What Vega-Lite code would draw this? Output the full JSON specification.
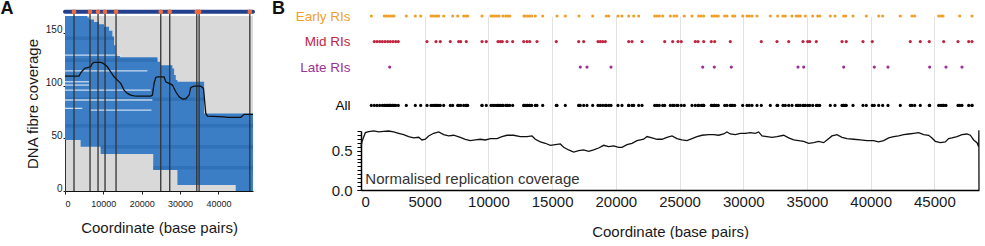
{
 "$schema": "https://vega.github.io/schema/vega-lite/v6.json",
 "padding": 0,
 "background": "white",
 "bounds": "flush",
 "spacing": 108,
 "config": {"font": "Liberation Sans", "view": {"stroke": null}, "axis": {"titleColor": "#1a1a1a", "titleFontWeight": "normal", "domainColor": "#222", "tickColor": "#222"}, "title": {"fontSize": 18, "fontWeight": "bold", "color": "#111"}},
 "resolve": {"scale": {"x": "independent", "y": "independent", "color": "independent"}},
 "datasets": {
  "cover": [
   {"x":0,"top":165.9,"bottom":48.3},{"x":4070,"top":165.9,"bottom":42},{"x":5826,"top":164.6,"bottom":42},{"x":6261,"top":162.7,"bottom":42},{"x":7565,"top":160.4,"bottom":42},{"x":8870,"top":158.2,"bottom":42},{"x":9288,"top":158.2,"bottom":35},{"x":10174,"top":155.7,"bottom":35},{"x":11478,"top":151.9,"bottom":35},{"x":12348,"top":146.2,"bottom":35},{"x":12783,"top":138.3,"bottom":35},{"x":13217,"top":129.9,"bottom":35},{"x":13652,"top":128,"bottom":35},{"x":14348,"top":126.8,"bottom":35},{"x":23000,"top":126.8,"bottom":19.9},{"x":24087,"top":122.5,"bottom":19.9},{"x":24957,"top":119.4,"bottom":19.9},{"x":28000,"top":116.3,"bottom":19.9},{"x":28435,"top":110,"bottom":19.9},{"x":28870,"top":105.2,"bottom":19.9},{"x":29304,"top":103.6,"bottom":5.7},{"x":36261,"top":73.6,"bottom":5.7},{"x":44500,"top":73.6,"bottom":0},{"x":49000,"top":73.6,"bottom":0}
  ],
  "bands": [
   {"start":0,"end":12783,"y":145},{"start":0,"end":24087,"y":124},{"start":0,"end":36261,"y":87},{"start":0,"end":49000,"y":62},{"start":9288,"end":49000,"y":42},{"start":23000,"end":49000,"y":22}
  ],
  "wlines": [
   {"start":0,"end":14610,"y":128.9},{"start":0,"end":21470,"y":114},{"start":0,"end":6260,"y":103.6},{"start":0,"end":6260,"y":100.5},{"start":0,"end":22330,"y":95.7},{"start":0,"end":22776,"y":86.3},{"start":0,"end":4510,"y":78.4},{"start":6600,"end":22515,"y":76.8}
  ],
  "meanA": [
   {"x":0,"v":109},{"x":3652,"v":109},{"x":4087,"v":112},{"x":5130,"v":116.3},{"x":6696,"v":117.8},{"x":7130,"v":121},{"x":7565,"v":122},{"x":9304,"v":122},{"x":10000,"v":121},{"x":11043,"v":117.8},{"x":11913,"v":113.1},{"x":12783,"v":108.3},{"x":13652,"v":105.2},{"x":14522,"v":102.1},{"x":15391,"v":95.7},{"x":16261,"v":92.6},{"x":17130,"v":91},{"x":18000,"v":90.3},{"x":18870,"v":90},{"x":22348,"v":90},{"x":22783,"v":91},{"x":23217,"v":102.1},{"x":23652,"v":107.7},{"x":24087,"v":108.3},{"x":25826,"v":108.3},{"x":26261,"v":103.6},{"x":27130,"v":102.1},{"x":28000,"v":100.5},{"x":28870,"v":94.1},{"x":29739,"v":89.4},{"x":30609,"v":87.2},{"x":31478,"v":87.5},{"x":32348,"v":91},{"x":32783,"v":98.3},{"x":33652,"v":99.5},{"x":35391,"v":99.5},{"x":36087,"v":97.3},{"x":36696,"v":73.6},{"x":37130,"v":71.1},{"x":41478,"v":70.4},{"x":42348,"v":69.9},{"x":45826,"v":69.9},{"x":46696,"v":72.7},{"x":49000,"v":72.7}
  ],
  "orig": [
   {"pos":2348},{"pos":6522},{"pos":8609},{"pos":10435},{"pos":13304},{"pos":24957},{"pos":27304},{"pos":34348},{"pos":34957},{"pos":48174}
  ],
  "genome": [{"start":0,"end":49000}],
  "note": [{"text":"Normalised replication coverage","pos":340,"v":0.076}],
  "ri": [
   {"pos":808,"type":"Early RIs"},{"pos":1829,"type":"Early RIs"},{"pos":1986,"type":"Early RIs"},{"pos":2142,"type":"Early RIs"},{"pos":2299,"type":"Early RIs"},{"pos":2456,"type":"Early RIs"},{"pos":2590,"type":"Early RIs"},{"pos":3555,"type":"Early RIs"},{"pos":4261,"type":"Early RIs"},{"pos":4685,"type":"Early RIs"},{"pos":5494,"type":"Early RIs"},{"pos":5651,"type":"Early RIs"},{"pos":5808,"type":"Early RIs"},{"pos":5965,"type":"Early RIs"},{"pos":6098,"type":"Early RIs"},{"pos":6490,"type":"Early RIs"},{"pos":7197,"type":"Early RIs"},{"pos":7589,"type":"Early RIs"},{"pos":8060,"type":"Early RIs"},{"pos":8240,"type":"Early RIs"},{"pos":8374,"type":"Early RIs"},{"pos":9495,"type":"Early RIs"},{"pos":10202,"type":"Early RIs"},{"pos":10359,"type":"Early RIs"},{"pos":10516,"type":"Early RIs"},{"pos":10673,"type":"Early RIs"},{"pos":10830,"type":"Early RIs"},{"pos":11144,"type":"Early RIs"},{"pos":11356,"type":"Early RIs"},{"pos":11513,"type":"Early RIs"},{"pos":11670,"type":"Early RIs"},{"pos":12793,"type":"Early RIs"},{"pos":12894,"type":"Early RIs"},{"pos":13082,"type":"Early RIs"},{"pos":13239,"type":"Early RIs"},{"pos":13396,"type":"Early RIs"},{"pos":13679,"type":"Early RIs"},{"pos":14260,"type":"Early RIs"},{"pos":15382,"type":"Early RIs"},{"pos":16034,"type":"Early RIs"},{"pos":17107,"type":"Early RIs"},{"pos":18184,"type":"Early RIs"},{"pos":19251,"type":"Early RIs"},{"pos":19440,"type":"Early RIs"},{"pos":20169,"type":"Early RIs"},{"pos":20483,"type":"Early RIs"},{"pos":21009,"type":"Early RIs"},{"pos":21401,"type":"Early RIs"},{"pos":21794,"type":"Early RIs"},{"pos":23050,"type":"Early RIs"},{"pos":23230,"type":"Early RIs"},{"pos":23411,"type":"Early RIs"},{"pos":23677,"type":"Early RIs"},{"pos":24274,"type":"Early RIs"},{"pos":24564,"type":"Early RIs"},{"pos":24776,"type":"Early RIs"},{"pos":25373,"type":"Early RIs"},{"pos":25977,"type":"Early RIs"},{"pos":26503,"type":"Early RIs"},{"pos":26707,"type":"Early RIs"},{"pos":26895,"type":"Early RIs"},{"pos":27547,"type":"Early RIs"},{"pos":27727,"type":"Early RIs"},{"pos":27884,"type":"Early RIs"},{"pos":28041,"type":"Early RIs"},{"pos":28543,"type":"Early RIs"},{"pos":28724,"type":"Early RIs"},{"pos":29171,"type":"Early RIs"},{"pos":29328,"type":"Early RIs"},{"pos":29956,"type":"Early RIs"},{"pos":30294,"type":"Early RIs"},{"pos":30474,"type":"Early RIs"},{"pos":30686,"type":"Early RIs"},{"pos":31078,"type":"Early RIs"},{"pos":32122,"type":"Early RIs"},{"pos":32703,"type":"Early RIs"},{"pos":33118,"type":"Early RIs"},{"pos":33299,"type":"Early RIs"},{"pos":33825,"type":"Early RIs"},{"pos":34162,"type":"Early RIs"},{"pos":34319,"type":"Early RIs"},{"pos":34476,"type":"Early RIs"},{"pos":34869,"type":"Early RIs"},{"pos":35449,"type":"Early RIs"},{"pos":35842,"type":"Early RIs"},{"pos":35999,"type":"Early RIs"},{"pos":36831,"type":"Early RIs"},{"pos":37200,"type":"Early RIs"},{"pos":37883,"type":"Early RIs"},{"pos":38040,"type":"Early RIs"},{"pos":38613,"type":"Early RIs"},{"pos":39657,"type":"Early RIs"},{"pos":40630,"type":"Early RIs"},{"pos":40944,"type":"Early RIs"},{"pos":42325,"type":"Early RIs"},{"pos":43243,"type":"Early RIs"},{"pos":43455,"type":"Early RIs"},{"pos":45338,"type":"Early RIs"},{"pos":45519,"type":"Early RIs"},{"pos":45676,"type":"Early RIs"},{"pos":46986,"type":"Early RIs"},{"pos":47952,"type":"Early RIs"},
   {"pos":1044,"type":"Mid RIs"},{"pos":1256,"type":"Mid RIs"},{"pos":1468,"type":"Mid RIs"},{"pos":1672,"type":"Mid RIs"},{"pos":1884,"type":"Mid RIs"},{"pos":2095,"type":"Mid RIs"},{"pos":2299,"type":"Mid RIs"},{"pos":2511,"type":"Mid RIs"},{"pos":2723,"type":"Mid RIs"},{"pos":2927,"type":"Mid RIs"},{"pos":5180,"type":"Mid RIs"},{"pos":5886,"type":"Mid RIs"},{"pos":6223,"type":"Mid RIs"},{"pos":7008,"type":"Mid RIs"},{"pos":7667,"type":"Mid RIs"},{"pos":7824,"type":"Mid RIs"},{"pos":8264,"type":"Mid RIs"},{"pos":9496,"type":"Mid RIs"},{"pos":9833,"type":"Mid RIs"},{"pos":10752,"type":"Mid RIs"},{"pos":10932,"type":"Mid RIs"},{"pos":11089,"type":"Mid RIs"},{"pos":11458,"type":"Mid RIs"},{"pos":11905,"type":"Mid RIs"},{"pos":12769,"type":"Mid RIs"},{"pos":13028,"type":"Mid RIs"},{"pos":13239,"type":"Mid RIs"},{"pos":13812,"type":"Mid RIs"},{"pos":15327,"type":"Mid RIs"},{"pos":17085,"type":"Mid RIs"},{"pos":17477,"type":"Mid RIs"},{"pos":18600,"type":"Mid RIs"},{"pos":18780,"type":"Mid RIs"},{"pos":18969,"type":"Mid RIs"},{"pos":19173,"type":"Mid RIs"},{"pos":21009,"type":"Mid RIs"},{"pos":21268,"type":"Mid RIs"},{"pos":22053,"type":"Mid RIs"},{"pos":23834,"type":"Mid RIs"},{"pos":24462,"type":"Mid RIs"},{"pos":24878,"type":"Mid RIs"},{"pos":25137,"type":"Mid RIs"},{"pos":26236,"type":"Mid RIs"},{"pos":26448,"type":"Mid RIs"},{"pos":26895,"type":"Mid RIs"},{"pos":27492,"type":"Mid RIs"},{"pos":27758,"type":"Mid RIs"},{"pos":28983,"type":"Mid RIs"},{"pos":31416,"type":"Mid RIs"},{"pos":32648,"type":"Mid RIs"},{"pos":33566,"type":"Mid RIs"},{"pos":34688,"type":"Mid RIs"},{"pos":35057,"type":"Mid RIs"},{"pos":35214,"type":"Mid RIs"},{"pos":35732,"type":"Mid RIs"},{"pos":37749,"type":"Mid RIs"},{"pos":38087,"type":"Mid RIs"},{"pos":39397,"type":"Mid RIs"},{"pos":40127,"type":"Mid RIs"},{"pos":43109,"type":"Mid RIs"},{"pos":43894,"type":"Mid RIs"},{"pos":44600,"type":"Mid RIs"},{"pos":45730,"type":"Mid RIs"},{"pos":46853,"type":"Mid RIs"},{"pos":47692,"type":"Mid RIs"},{"pos":47951,"type":"Mid RIs"},
   {"pos":2252,"type":"Late RIs"},{"pos":17211,"type":"Late RIs"},{"pos":17736,"type":"Late RIs"},{"pos":19620,"type":"Late RIs"},{"pos":26817,"type":"Late RIs"},{"pos":27727,"type":"Late RIs"},{"pos":29061,"type":"Late RIs"},{"pos":34296,"type":"Late RIs"},{"pos":34743,"type":"Late RIs"},{"pos":37882,"type":"Late RIs"},{"pos":40284,"type":"Late RIs"},{"pos":41359,"type":"Late RIs"},{"pos":44631,"type":"Late RIs"},{"pos":45911,"type":"Late RIs"},{"pos":47166,"type":"Late RIs"}
  ],
  "cov": [
   {"pos":0,"v":0.551},{"pos":78,"v":0.615},{"pos":340,"v":0.729},{"pos":602,"v":0.742},{"pos":994,"v":0.752},{"pos":1386,"v":0.738},{"pos":1779,"v":0.746},{"pos":2171,"v":0.75},{"pos":2564,"v":0.738},{"pos":2956,"v":0.721},{"pos":3348,"v":0.704},{"pos":3741,"v":0.679},{"pos":4133,"v":0.662},{"pos":4526,"v":0.67},{"pos":4787,"v":0.636},{"pos":5049,"v":0.645},{"pos":5310,"v":0.687},{"pos":5703,"v":0.721},{"pos":6095,"v":0.738},{"pos":6488,"v":0.704},{"pos":6880,"v":0.687},{"pos":7272,"v":0.696},{"pos":7796,"v":0.67},{"pos":8188,"v":0.645},{"pos":8580,"v":0.628},{"pos":8973,"v":0.636},{"pos":9365,"v":0.645},{"pos":9758,"v":0.636},{"pos":10150,"v":0.653},{"pos":10673,"v":0.653},{"pos":11066,"v":0.679},{"pos":11458,"v":0.696},{"pos":11981,"v":0.696},{"pos":12504,"v":0.679},{"pos":13028,"v":0.679},{"pos":13420,"v":0.687},{"pos":13682,"v":0.645},{"pos":14074,"v":0.611},{"pos":14466,"v":0.594},{"pos":14859,"v":0.568},{"pos":15251,"v":0.577},{"pos":15644,"v":0.585},{"pos":15905,"v":0.543},{"pos":16297,"v":0.509},{"pos":16690,"v":0.483},{"pos":17082,"v":0.5},{"pos":17475,"v":0.509},{"pos":17867,"v":0.492},{"pos":18259,"v":0.509},{"pos":18652,"v":0.534},{"pos":19044,"v":0.568},{"pos":19436,"v":0.551},{"pos":19829,"v":0.56},{"pos":20221,"v":0.543},{"pos":20483,"v":0.543},{"pos":20876,"v":0.577},{"pos":21268,"v":0.594},{"pos":21660,"v":0.628},{"pos":22183,"v":0.645},{"pos":22446,"v":0.679},{"pos":22838,"v":0.662},{"pos":23230,"v":0.645},{"pos":23623,"v":0.645},{"pos":24015,"v":0.67},{"pos":24408,"v":0.687},{"pos":24800,"v":0.653},{"pos":25192,"v":0.636},{"pos":25585,"v":0.628},{"pos":25977,"v":0.653},{"pos":26370,"v":0.679},{"pos":26762,"v":0.696},{"pos":27285,"v":0.704},{"pos":27678,"v":0.704},{"pos":28070,"v":0.696},{"pos":28462,"v":0.712},{"pos":28724,"v":0.738},{"pos":28986,"v":0.712},{"pos":29378,"v":0.704},{"pos":29770,"v":0.721},{"pos":30163,"v":0.721},{"pos":30555,"v":0.729},{"pos":30948,"v":0.721},{"pos":31209,"v":0.738},{"pos":31471,"v":0.687},{"pos":31863,"v":0.679},{"pos":32256,"v":0.67},{"pos":32648,"v":0.679},{"pos":33171,"v":0.696},{"pos":33564,"v":0.662},{"pos":33956,"v":0.636},{"pos":34348,"v":0.628},{"pos":34741,"v":0.619},{"pos":35133,"v":0.594},{"pos":35526,"v":0.602},{"pos":35918,"v":0.619},{"pos":36310,"v":0.602},{"pos":36572,"v":0.636},{"pos":36964,"v":0.687},{"pos":37357,"v":0.704},{"pos":37749,"v":0.67},{"pos":38142,"v":0.653},{"pos":38665,"v":0.645},{"pos":39188,"v":0.636},{"pos":39711,"v":0.628},{"pos":40234,"v":0.628},{"pos":40627,"v":0.611},{"pos":41019,"v":0.628},{"pos":41412,"v":0.662},{"pos":41804,"v":0.679},{"pos":42196,"v":0.687},{"pos":42589,"v":0.704},{"pos":42981,"v":0.712},{"pos":43374,"v":0.721},{"pos":43766,"v":0.729},{"pos":44158,"v":0.704},{"pos":44551,"v":0.696},{"pos":44812,"v":0.662},{"pos":45074,"v":0.619},{"pos":45466,"v":0.602},{"pos":45859,"v":0.611},{"pos":46120,"v":0.653},{"pos":46382,"v":0.662},{"pos":46774,"v":0.679},{"pos":47167,"v":0.704},{"pos":47559,"v":0.712},{"pos":47821,"v":0.696},{"pos":48082,"v":0.636},{"pos":48344,"v":0.602},{"pos":48477,"v":0.551},{"pos":48490,"v":0.76},{"pos":48502,"v":0}
  ]
 },
 "hconcat": [
  {
   "title": {"text": "A", "anchor": "start", "frame": "group", "dx": -64.5, "dy": 9, "offset": 0},
   "width": 188,
   "height": 175,
   "view": {"fill": "#d9d9d9", "stroke": null},
   "layer": [
    {
     "data": {"name": "cover"},
     "mark": {"type": "area", "interpolate": "step-after", "color": "#3b7ec5", "opacity": 1},
     "encoding": {
      "x": {"field": "x", "type": "quantitative", "title": "Coordinate (base pairs)", "scale": {"domain": [0, 49000], "nice": false, "zero": false},
            "axis": {"values": [0, 10000, 20000, 30000, 40000], "format": "d", "labelFontSize": 9, "labelColor": "#1a1a1a", "tickSize": 3, "labelPadding": 5, "titleFontSize": 15, "titlePadding": 12, "grid": false, "domainColor": "#111"}},
      "y": {"field": "top", "type": "quantitative", "title": "DNA fibre coverage", "scale": {"domain": [0, 166], "nice": false},
            "axis": {"values": [0, 50, 100, 150], "labelFontSize": 10, "labelColor": "#1a1a1a", "labelBaseline": "alphabetic", "tickSize": 2, "labelPadding": 1, "titleFontSize": 15, "titlePadding": 5, "grid": false, "domainColor": "#333"}},
      "y2": {"field": "bottom"}
     }
    },
    {
     "data": {"name": "bands"},
     "mark": {"type": "rule", "color": "#2a66ab", "strokeWidth": 3.5, "opacity": 0.55},
     "encoding": {
      "x": {"field": "start", "type": "quantitative", "title": "Coordinate (base pairs)"},
      "x2": {"field": "end"},
      "y": {"field": "y", "type": "quantitative", "title": "DNA fibre coverage"}
     }
    },
    {
     "data": {"name": "wlines"},
     "mark": {"type": "rule", "color": "#e2eaf5", "strokeWidth": 1.3, "opacity": 0.85},
     "encoding": {
      "x": {"field": "start", "type": "quantitative", "title": "Coordinate (base pairs)"},
      "x2": {"field": "end"},
      "y": {"field": "y", "type": "quantitative", "title": "DNA fibre coverage"}
     }
    },
    {
     "data": {"name": "orig"},
     "mark": {"type": "rule", "color": "#333333", "strokeWidth": 1.3},
     "encoding": {
      "x": {"field": "pos", "type": "quantitative", "title": "Coordinate (base pairs)"},
      "y": {"datum": 0},
      "y2": {"datum": 170}
     }
    },
    {
     "data": {"name": "meanA"},
     "mark": {"type": "line", "color": "#111111", "strokeWidth": 1.3},
     "encoding": {
      "x": {"field": "x", "type": "quantitative", "title": "Coordinate (base pairs)"},
      "y": {"field": "v", "type": "quantitative", "title": "DNA fibre coverage"}
     }
    },
    {
     "data": {"name": "genome"},
     "mark": {"type": "rule", "color": "#23408f", "strokeWidth": 4, "strokeCap": "round"},
     "encoding": {
      "x": {"field": "start", "type": "quantitative", "title": "Coordinate (base pairs)"},
      "x2": {"field": "end"},
      "y": {"datum": 170}
     }
    },
    {
     "data": {"name": "orig"},
     "mark": {"type": "circle", "color": "#f26c3a", "size": 22, "opacity": 1},
     "encoding": {
      "x": {"field": "pos", "type": "quantitative", "title": "Coordinate (base pairs)"},
      "y": {"datum": 170}
     }
    }
   ]
  },
  {
   "title": {"text": "B", "anchor": "start", "frame": "group", "dx": -89, "dy": 9, "offset": 0},
   "bounds": "flush",
   "spacing": 0,
   "resolve": {"scale": {"x": "independent", "y": "independent"}},
   "vconcat": [
    {
     "width": 618,
     "height": 115,
     "layer": [
      {
       "data": {"name": "ri"},
       "mark": {"type": "circle", "size": 10, "opacity": 1},
       "encoding": {
        "x": {"field": "pos", "type": "quantitative", "scale": {"domain": [0, 48502], "nice": false, "zero": false},
              "axis": {"values": [5000, 10000, 15000, 20000, 25000, 30000, 35000, 40000, 45000], "labels": false, "ticks": false, "domain": false, "grid": true, "gridColor": "#e2e2e2", "gridWidth": 1, "title": null}},
        "y": {"field": "type", "type": "nominal", "scale": {"type": "point", "domain": ["Early RIs", "s1", "Mid RIs", "s2", "Late RIs", "s3", "s4", "All"], "padding": 1.59, "align": 0},
              "axis": {"title": null, "ticks": false, "domain": false, "grid": false, "labelPadding": 11, "labelFontSize": 13.5,
                       "labelExpr": "datum.value == 'Early RIs' || datum.value == 'Mid RIs' || datum.value == 'Late RIs' || datum.value == 'All' ? datum.value : ''",
                       "labelColor": {"condition": [{"test": "datum.value == 'Early RIs'", "value": "#f0a02a"}, {"test": "datum.value == 'Mid RIs'", "value": "#c0253f"}, {"test": "datum.value == 'Late RIs'", "value": "#9a3294"}], "value": "#000000"}}},
        "color": {"field": "type", "type": "nominal", "scale": {"domain": ["Early RIs", "Mid RIs", "Late RIs"], "range": ["#f0a02a", "#c0253f", "#9a3294"]}, "legend": null}
       }
      },
      {
       "data": {"name": "ri"},
       "mark": {"type": "circle", "size": 10, "color": "#000000", "opacity": 1},
       "encoding": {
        "x": {"field": "pos", "type": "quantitative"},
        "y": {"datum": "All", "type": "nominal"}
       }
      }
     ]
    },
    {
     "width": 618,
     "height": 59,
     "resolve": {"axis": {"y": "independent"}},
     "layer": [
      {
       "data": {"name": "cov"},
       "mark": {"type": "line", "color": "#111111", "strokeWidth": 1.3},
       "encoding": {
        "x": {"field": "pos", "type": "quantitative", "title": "Coordinate (base pairs)", "scale": {"domain": [0, 48502], "nice": false, "zero": false},
              "axis": {"values": [0, 5000, 10000, 15000, 20000, 25000, 30000, 35000, 40000, 45000], "format": "d", "grid": true, "gridColor": "#e2e2e2", "ticks": false, "labelPadding": 4, "labelFontSize": 15, "labelColor": "#1a1a1a", "domainColor": "#000000", "domainWidth": 1.5, "titleFontSize": 15, "titlePadding": 15}},
        "y": {"field": "v", "type": "quantitative", "title": null, "scale": {"domain": [0, 0.75], "nice": false},
              "axis": {"orient": "left", "values": [0, 0.5], "format": ".1f", "grid": false, "tickSize": 4, "labelPadding": 5, "labelFontSize": 15, "labelColor": "#1a1a1a", "domainColor": "#000000", "domainWidth": 1.5, "tickColor": "#000000"}}
       }
      },
      {
       "data": {"name": "note"},
       "mark": {"type": "text", "align": "left", "baseline": "alphabetic", "fontSize": 15, "color": "#333333"},
       "encoding": {
        "x": {"field": "pos", "type": "quantitative"},
        "y": {"field": "v", "type": "quantitative", "title": null,
              "axis": {"orient": "left", "values": [0, 0.05, 0.1, 0.15, 0.2, 0.25, 0.3, 0.35, 0.4, 0.45, 0.5, 0.55, 0.6, 0.65, 0.7, 0.75], "labels": false, "grid": false, "domain": false, "tickSize": 4, "tickColor": "#000000"}},
        "text": {"field": "text"}
       }
      }
     ]
    }
   ]
  }
 ]
}
